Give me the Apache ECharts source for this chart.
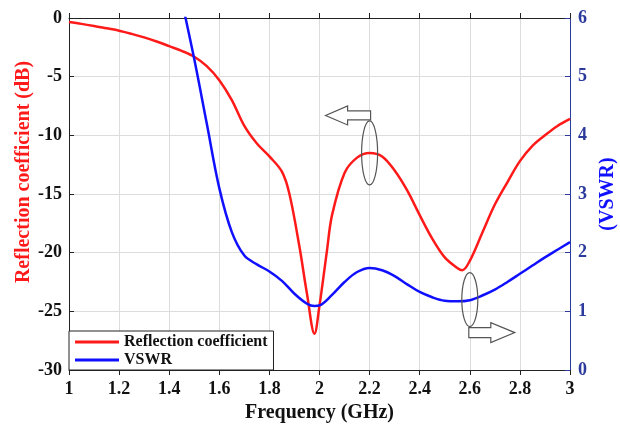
<!DOCTYPE html>
<html lang="en">
<head>
    <meta charset="UTF-8">
    <title>Reflection coefficient and VSWR</title>
    <style>
        body { margin: 0; background: #fff; }
        #chart { width: 620px; height: 425px; }
    </style>
</head>
<body>
    <div id="chart"></div>
    <script src="https://cdn.jsdelivr.net/npm/echarts@6/dist/echarts.min.js"></script>
    <script>
        // values
        const s11Freq = [1.00, 1.05, 1.10, 1.15, 1.20, 1.25, 1.30, 1.35, 1.40, 1.45, 1.50, 1.55, 1.60, 1.65, 1.70, 1.75, 1.80, 1.85, 1.88, 1.92, 1.95, 1.98, 2.00, 2.03, 2.05, 2.10, 2.15, 2.20, 2.25, 2.30, 2.35, 2.40, 2.45, 2.50, 2.55, 2.57, 2.60, 2.65, 2.70, 2.75, 2.80, 2.85, 2.90, 2.95, 3.00];
        const s11 = [-0.35, -0.5, -0.68, -0.88, -1.08, -1.35, -1.65, -2.0, -2.4, -2.8, -3.3, -4.1, -5.3, -7.0, -9.2, -10.7, -11.8, -13.1, -15.0, -19.5, -23.5, -26.9, -24.5, -19.8, -16.8, -13.2, -11.9, -11.5, -11.8, -13.0, -14.7, -16.8, -18.8, -20.4, -21.3, -21.5, -20.7, -18.3, -15.9, -14.0, -12.2, -10.9, -10.0, -9.2, -8.6];
        const vswrFreq = [1.45, 1.50, 1.55, 1.60, 1.65, 1.70, 1.75, 1.80, 1.85, 1.90, 1.95, 1.98, 2.00, 2.05, 2.10, 2.15, 2.20, 2.25, 2.30, 2.35, 2.40, 2.45, 2.50, 2.55, 2.60, 2.65, 2.70, 2.75, 2.80, 2.85, 2.90, 2.95, 3.00];
        const vswr = [6.3, 5.3, 4.2, 3.1, 2.35, 1.95, 1.8, 1.68, 1.52, 1.3, 1.13, 1.09, 1.1, 1.28, 1.5, 1.67, 1.74, 1.7, 1.6, 1.46, 1.33, 1.24, 1.18, 1.17, 1.19, 1.27, 1.37, 1.5, 1.64, 1.78, 1.92, 2.05, 2.18];
        const freqTicks = [1, 1.2, 1.4, 1.6, 1.8, 2, 2.2, 2.4, 2.6, 2.8, 3];

        const serif = '"Liberation Serif", "DejaVu Serif", serif';
        const red = '#ff1a1a';
        const blue = '#1010ff';
        const axisBlue = '#2b3a9c';

        const chart = echarts.init(document.getElementById('chart'));
        chart.setOption({
            animation: false,
            backgroundColor: '#fff',
            grid: { left: 69, right: 50, top: 18, bottom: 55, outerBoundsMode: 'none' },
            legend: {
                left: 69,
                bottom: 55,
                orient: 'vertical',
                backgroundColor: '#fff',
                borderColor: '#222',
                borderWidth: 1,
                padding: [3, 6, 2, 6],
                itemGap: 2,
                itemWidth: 44,
                itemHeight: 3,
                icon: 'rect',
                textStyle: { fontFamily: serif, fontWeight: 'bold', fontSize: 16, color: '#111' },
                data: ['Reflection coefficient', 'VSWR']
            },
            xAxis: [
                {
                    type: 'value',
                    min: 1, max: 3, interval: 0.2,
                    name: 'Frequency (GHz)',
                    nameLocation: 'middle',
                    nameGap: 31,
                    nameTextStyle: { fontFamily: serif, fontWeight: 'bold', fontSize: 20, color: '#111' },
                    axisLine: { lineStyle: { color: '#222', width: 1 } },
                    axisTick: { inside: true, length: 5, lineStyle: { color: '#222' } },
                    axisLabel: {
                        fontFamily: serif, fontWeight: 'bold', fontSize: 18, color: '#111', margin: 10,
                        formatter: v => freqTicks.includes(+v.toFixed(1)) ? String(+v.toFixed(1)) : ''
                    },
                    splitLine: { show: true, lineStyle: { color: '#dcdcdc', width: 1 } }
                },
                {
                    type: 'value',
                    position: 'top',
                    min: 1, max: 3, interval: 0.2,
                    axisLine: { show: true, lineStyle: { color: '#222', width: 1 } },
                    axisTick: { inside: true, length: 5, lineStyle: { color: '#222' } },
                    axisLabel: { show: false },
                    splitLine: { show: false }
                }
            ],
            yAxis: [
                {
                    type: 'value',
                    min: -30, max: 0, interval: 5,
                    name: 'Reflection coefficient (dB)',
                    nameLocation: 'middle',
                    nameGap: 35,
                    nameMoveOverlap: false,
                    nameTextStyle: { fontFamily: serif, fontWeight: 'bold', fontSize: 20, color: red, padding: [0, 0, 0, 44] },
                    axisLine: { show: true, lineStyle: { color: '#222', width: 1 } },
                    axisTick: { show: true, inside: true, length: 5, lineStyle: { color: '#222' } },
                    axisLabel: { fontFamily: serif, fontWeight: 'bold', fontSize: 18, color: '#111', margin: 7 },
                    splitLine: { show: true, lineStyle: { color: '#dcdcdc', width: 1 } }
                },
                {
                    type: 'value',
                    position: 'right',
                    min: 0, max: 6, interval: 1,
                    name: '(VSWR)',
                    nameLocation: 'middle',
                    nameGap: 28,
                    nameRotate: 90,
                    nameTextStyle: { fontFamily: serif, fontWeight: 'bold', fontSize: 20, color: blue },
                    axisLine: { show: true, lineStyle: { color: axisBlue, width: 1 } },
                    axisTick: { show: true, inside: true, length: 5, lineStyle: { color: axisBlue } },
                    axisLabel: { fontFamily: serif, fontWeight: 'bold', fontSize: 18, color: axisBlue, margin: 8 },
                    splitLine: { show: false }
                }
            ],
            series: [
                {
                    name: 'Reflection coefficient',
                    type: 'line',
                    xAxisIndex: 0,
                    yAxisIndex: 0,
                    smooth: 0.35,
                    showSymbol: false,
                    color: red,
                    lineStyle: { color: red, width: 2.5 },
                    data: s11Freq.map((f, i) => [f, s11[i]])
                },
                {
                    name: 'VSWR',
                    type: 'line',
                    xAxisIndex: 0,
                    yAxisIndex: 1,
                    smooth: 0.35,
                    showSymbol: false,
                    clip: true,
                    color: blue,
                    lineStyle: { color: blue, width: 2.5 },
                    data: vswrFreq.map((f, i) => [f, vswr[i]])
                }
            ]
        });

        // callouts: ellipse on a curve with an arrow pointing to its axis
        const p1 = chart.convertToPixel({ xAxisIndex: 0, yAxisIndex: 0 }, [2.2, -11.5]);
        const p2 = chart.convertToPixel({ xAxisIndex: 0, yAxisIndex: 1 }, [2.6, 1.2]);
        const calloutStyle = { stroke: '#555', lineWidth: 1.2 };
        chart.setOption({
            graphic: [
                {
                    type: 'ellipse', x: p1[0], y: p1[1], z: 100,
                    shape: { cx: 0, cy: 0, rx: 8, ry: 32 },
                    style: Object.assign({ fill: 'none' }, calloutStyle)
                },
                {
                    type: 'polygon', x: p1[0], y: p1[1], z: 100,
                    shape: { points: [[1, -42], [-22, -42], [-22, -47], [-44, -37.5], [-22, -28], [-22, -33], [1, -33]] },
                    style: Object.assign({ fill: '#fff' }, calloutStyle)
                },
                {
                    type: 'ellipse', x: p2[0], y: p2[1], z: 100,
                    shape: { cx: 0, cy: 0, rx: 8, ry: 27 },
                    style: Object.assign({ fill: 'none' }, calloutStyle)
                },
                {
                    type: 'polygon', x: p2[0], y: p2[1], z: 100,
                    shape: { points: [[-1, 28], [21, 28], [21, 23], [45, 33], [21, 43], [21, 38], [-1, 38]] },
                    style: Object.assign({ fill: '#fff' }, calloutStyle)
                }
            ]
        });
    </script>
</body>
</html>
